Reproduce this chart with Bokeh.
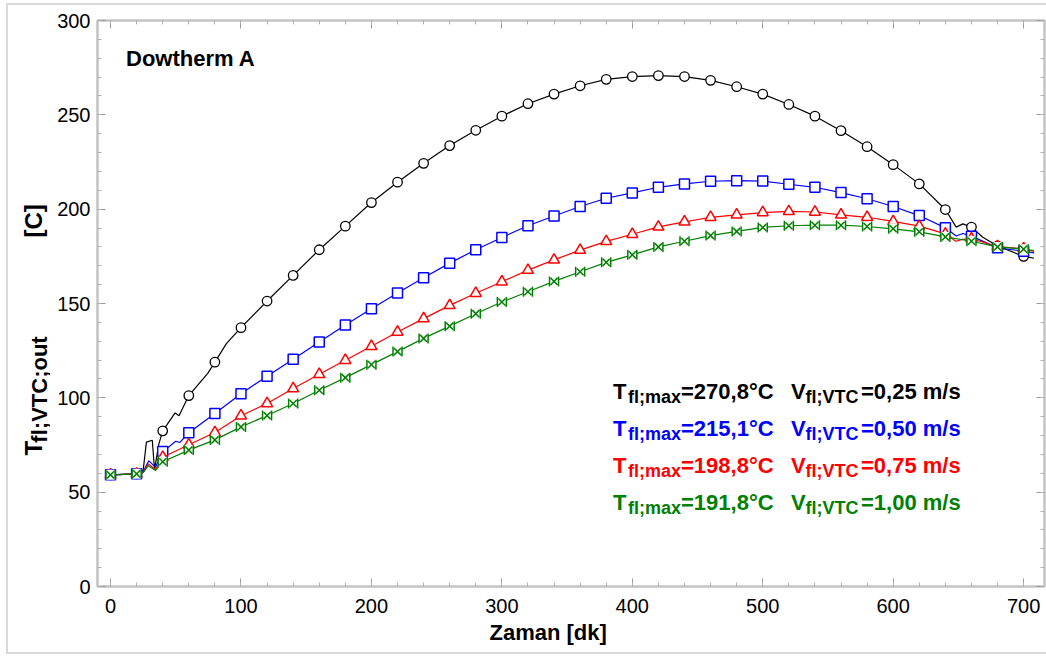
from math import pi
from bokeh.plotting import figure
from bokeh.layouts import row
from bokeh.models import Range1d, LinearAxis, Label, FixedTicker, Title, InlineStyleSheet
from bokeh.embed import file_html
from bokeh.resources import INLINE

# ---------------- data ----------------
time_min = list(range(0, 701, 20))

temp_v025 = [59.2, 59.7, 82.5, 101.2, 118.9, 137.2, 151.3, 164.9, 178.5, 191.0,
             203.5, 214.3, 224.3, 233.7, 241.8, 249.3, 255.9, 261.0, 265.4, 268.8,
             270.3, 270.8, 270.3, 268.3, 264.9, 261.0, 255.5, 249.3, 241.6, 233.1,
             223.6, 213.4, 199.8, 190.5, 180.5, 175.0]
temp_v050 = [59.2, 59.7, 71.5, 81.5, 91.7, 102.2, 111.5, 120.5, 129.6, 138.6,
             147.2, 155.6, 163.6, 171.4, 178.5, 185.0, 191.2, 196.4, 201.4, 205.8,
             208.6, 211.6, 213.4, 214.8, 215.1, 214.9, 213.2, 211.6, 208.8, 205.5,
             201.4, 196.6, 190.1, 185.7, 179.5, 177.7]
temp_v075 = [59.2, 59.7, 68.5, 75.1, 81.6, 90.5, 97.0, 104.9, 112.5, 119.9,
             127.3, 134.9, 142.0, 149.0, 155.4, 161.5, 167.7, 173.1, 178.3, 182.9,
             186.7, 190.6, 193.3, 195.7, 197.0, 198.2, 198.8, 198.5, 197.0, 195.7,
             193.5, 191.0, 186.9, 184.3, 180.2, 179.0]
temp_v100 = [59.2, 59.7, 66.1, 72.3, 77.7, 84.6, 90.6, 97.0, 104.0, 110.7,
             117.6, 124.5, 131.5, 138.0, 144.6, 150.8, 156.2, 161.7, 166.8, 171.8,
             175.8, 180.0, 183.0, 186.0, 188.2, 190.3, 191.2, 191.5, 191.5, 190.8,
             189.6, 188.0, 185.3, 183.0, 180.0, 178.8]

# line-only points between the markers (transients and wiggles)
extra_time_v025 = [25, 27.5, 32, 33.7, 37, 49.5, 52.5, 74.5, 88.8, 648.3, 653.4, 668.7, 708]
extra_temp_v025 = [61.5, 76.5, 77.5, 62.0, 75.5, 92.0, 90.5, 113.0, 128.7, 190.5, 192.2, 185.1, 174.0]
extra_time_v050 = [25, 29.3, 34.5, 50, 53, 648.3, 653.4, 708]
extra_temp_v050 = [60.8, 66.6, 63.3, 77.0, 76.3, 185.8, 187.1, 176.8]
extra_time_v075 = [25, 29, 34.5, 648, 653, 708]
extra_temp_v075 = [60.5, 65.0, 62.0, 183.0, 184.0, 177.6]
extra_time_v100 = [25, 29, 34.5, 708]
extra_temp_v100 = [60.3, 64.0, 61.5, 178.1]

tmax_labels = ["270,8", "215,1", "198,8", "191,8"]
speed_labels = ["0,25", "0,50", "0,75", "1,00"]
colors = ["#000000", "#0000FF", "#FF0000", "#008000"]

x_ticks = list(range(0, 701, 100))
x_minor = list(range(0, 717, 20))
y_ticks = list(range(0, 301, 50))
y_minor = list(range(0, 301, 10))

FONT = "Liberation Sans"
PAGE_W, PAGE_H = 1046, 657
LEFT_W = 50

# ---------------- left strip with the y-axis title ----------------
lf = figure(width=LEFT_W, height=PAGE_H, x_range=Range1d(0, LEFT_W), y_range=Range1d(0, PAGE_H),
            output_backend="svg", toolbar_location=None, x_axis_type=None, y_axis_type=None,
            min_border_left=0, min_border_right=0, min_border_top=0, min_border_bottom=0)
lf.outline_line_color = None
lf.background_fill_color = "white"
lf.border_fill_color = "white"


def add_ylabel(px, py, text, size):
    lf.add_layout(Label(x=px, y=PAGE_H - py, text=text, text_font=FONT,
                        text_font_size=f"{size}px", text_color="#000000",
                        text_font_style="bold", text_align="left",
                        text_baseline="alphabetic", angle=pi / 2))


add_ylabel(33, 505, "T", 24)
add_ylabel(38.5, 490, "fl;VTC;out", 22)
add_ylabel(33, 252, "[C]", 24)

# ---------------- main plot ----------------
FRAME_L, FRAME_R, FRAME_T, FRAME_B = 97.0, 1044.0, 20.0, 586.0  # page px

p = figure(width=PAGE_W - LEFT_W, height=PAGE_H, x_range=Range1d(-10, 716), y_range=Range1d(0, 300),
           output_backend="svg", toolbar_location=None,
           min_border_left=int(FRAME_L) - LEFT_W, min_border_right=PAGE_W - int(FRAME_R),
           min_border_top=int(FRAME_T), min_border_bottom=PAGE_H - int(FRAME_B))
p.xgrid.visible = False
p.ygrid.visible = False
p.outline_line_color = "#c4c4c4"
p.outline_line_width = 2
p.background_fill_color = "white"
p.border_fill_color = "white"


def px2x(px):
    return -10 + (px - FRAME_L) * 726.0 / (FRAME_R - FRAME_L)


def py2y(py):
    return (FRAME_B - py) * 300.0 / (FRAME_B - FRAME_T)


def style_axis(ax, ticks, minor, labels=True):
    ax.ticker = FixedTicker(ticks=ticks, minor_ticks=minor)
    ax.axis_line_color = "#c4c4c4"
    ax.axis_line_width = 2
    ax.major_tick_line_color = "#9a9a9a"
    ax.minor_tick_line_color = "#b0b0b0"
    ax.major_tick_in = 8
    ax.major_tick_out = 0
    ax.minor_tick_in = 4
    ax.minor_tick_out = 0
    ax.major_label_text_font = FONT
    if labels:
        ax.major_label_text_font_size = "20px"
        ax.major_label_text_color = "#000000"
    else:
        ax.major_label_text_font_size = "0px"
        ax.major_label_text_color = None
        ax.major_label_standoff = 0


style_axis(p.xaxis[0], x_ticks, x_minor)
p.xaxis[0].major_label_standoff = 12
style_axis(p.yaxis[0], y_ticks, y_minor)
p.yaxis[0].major_label_standoff = 7

top_ax = LinearAxis()
style_axis(top_ax, x_ticks, x_minor, labels=False)
p.add_layout(top_ax, "above")
right_ax = LinearAxis()
style_axis(right_ax, y_ticks, y_minor, labels=False)
p.add_layout(right_ax, "right")

# x axis title
p.add_layout(Title(text="Zaman [dk]", align="left", offset=392, standoff=4,
                   text_font=FONT, text_font_size="22px", text_font_style="bold",
                   text_color="#000000"), "below")


def merged(t, v, et, ev):
    pts = sorted(zip(list(t) + list(et), list(v) + list(ev)))
    return [a for a, _ in pts], [b for _, b in pts]


series = [(temp_v025, extra_time_v025, extra_temp_v025),
          (temp_v050, extra_time_v050, extra_temp_v050),
          (temp_v075, extra_time_v075, extra_temp_v075),
          (temp_v100, extra_time_v100, extra_temp_v100)]

for i, (vals, et, ev) in enumerate(series):
    lx, ly = merged(time_min, vals, et, ev)
    c = colors[i]
    p.line(lx, ly, line_color=c, line_width=1.2)
    if i == 0:
        p.scatter(time_min, vals, marker="circle", size=9.5, fill_color="white",
                  line_color=c, line_width=1.3)
    elif i == 1:
        p.scatter(time_min, vals, marker="square", size=10, fill_color="white",
                  line_color=c, line_width=1.5)
    elif i == 2:
        p.scatter(time_min, vals, marker="triangle", size=11, fill_color="white",
                  line_color=c, line_width=1.5)
    else:
        # bow-tie marker: left/right edges of a box + an X
        p.rect(time_min, vals, width=9, height=10, width_units="screen",
               height_units="screen", fill_color="white", fill_alpha=1.0,
               line_color=c, line_width=1.5, line_dash="0 9 10 9 10")
        p.scatter(time_min, vals, marker="x", size=10, line_color=c, line_width=1.5)


# ---------------- texts inside the frame ----------------
def add_label(px, py, text, size, color="#000000"):
    p.add_layout(Label(x=px2x(px), y=py2y(py), text=text, text_font=FONT,
                       text_font_size=f"{size}px", text_color=color,
                       text_font_style="bold", text_align="left",
                       text_baseline="alphabetic"))


add_label(125.5, 57.5, "Dowtherm A", 22)

row_base = [391.0, 428.0, 465.0, 502.0]
for i in range(4):
    b = row_base[i]
    c = colors[i]
    add_label(612.5, b, "T", 22, c)
    add_label(627.5, b + 5, "fl;max", 18, c)
    add_label(680.5, b, "=" + tmax_labels[i] + "°C", 22, c)
    add_label(790.5, b, "V", 22, c)
    add_label(805.0, b + 5, "fl;VTC", 18, c)
    add_label(860.5, b, "=" + speed_labels[i] + " m/s", 22, c)

# light outer picture border (as in the reference screenshot)
border_css = InlineStyleSheet(css="""
:host { position: relative; }
:host::after {
  content: ""; position: absolute; left: 6px; top: 3px; width: 1040px; height: 651px;
  border: 2px solid #d9d9d9; border-right: none; box-sizing: border-box;
  pointer-events: none; z-index: 100;
}
""")

layout = row(lf, p, stylesheets=[border_css])
open("out.html", "w").write(file_html(layout, INLINE))
